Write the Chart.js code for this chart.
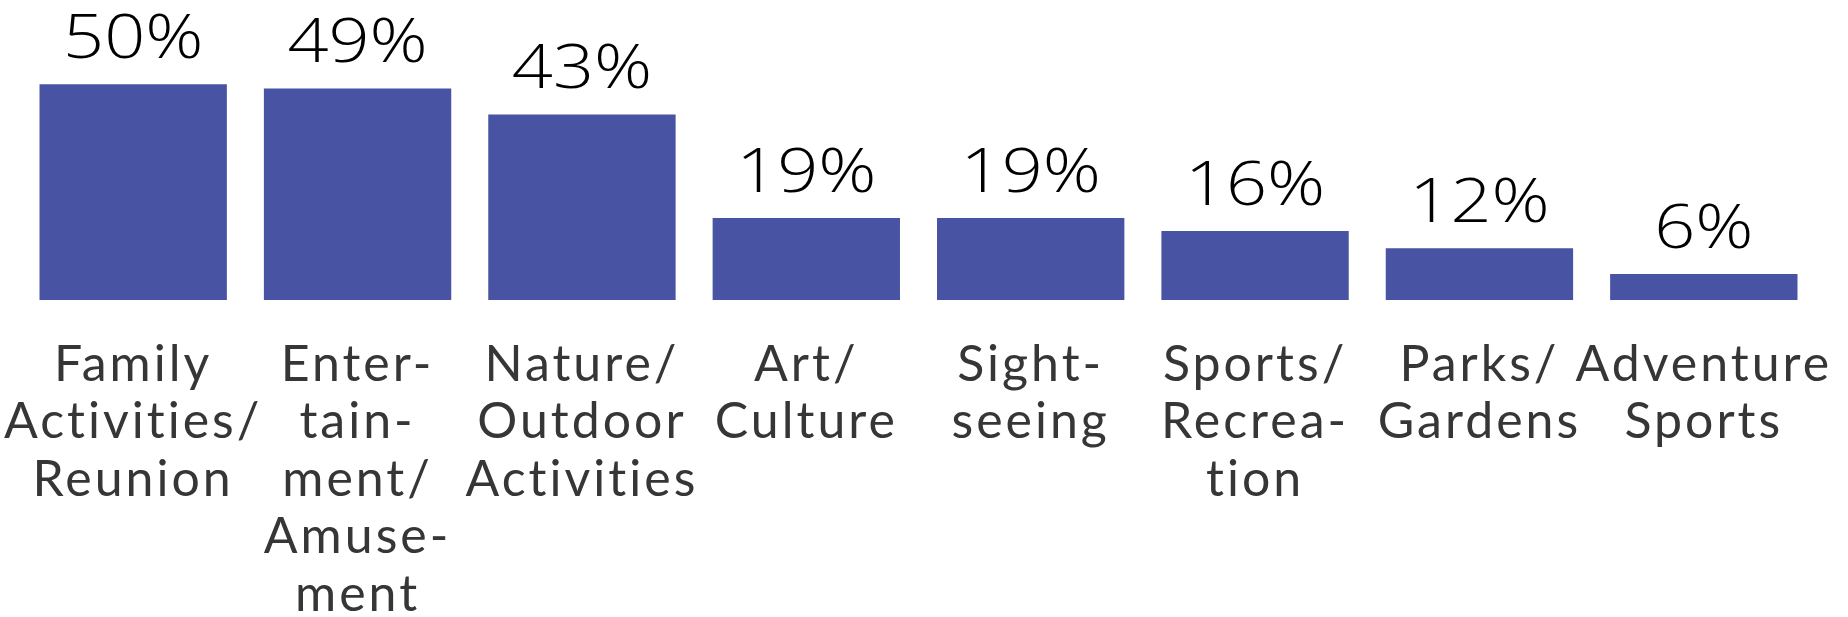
<!DOCTYPE html>
<html>
<head>
<meta charset="utf-8">
<script src="https://cdn.jsdelivr.net/npm/chart.js@4.4.1/dist/chart.umd.min.js"></script>
<style>
  html, body { margin: 0; padding: 0; background: #ffffff; }
  #wrap { width: 1848px; height: 617px; position: relative; }
</style>
</head>
<body>
<div id="wrap"><canvas id="chart"></canvas></div>
<script>
// Activity categories (hyphenated line breaks as printed)
const categories = [
  ['Family', 'Activities/', 'Reunion'],
  ['Enter-', 'tain-', 'ment/', 'Amuse-', 'ment'],
  ['Nature/', 'Outdoor', 'Activities'],
  ['Art/', 'Culture'],
  ['Sight-', 'seeing'],
  ['Sports/', 'Recrea-', 'tion'],
  ['Parks/', 'Gardens'],
  ['Adventure', 'Sports']
];

// Share of respondents, percent
const shares = [50, 49, 43, 19, 19, 16, 12, 6];

const barColor = '#4853a3';

// Slightly tracked lettering for the category labels
const tracking = {
  id: 'tracking',
  beforeDraw(chart) {
    chart.ctx.letterSpacing = '3px';
  }
};

// Percentage labels above each bar, placed from the bar elements.
// A wide, light face: Open Sans Light stretched horizontally.
const valueLabels = {
  id: 'valueLabels',
  afterDatasetsDraw(chart) {
    const ctx = chart.ctx;
    const meta = chart.getDatasetMeta(0);
    ctx.save();
    ctx.letterSpacing = '0px';
    ctx.font = '300 60px "Open Sans"';
    ctx.fillStyle = '#000000';
    ctx.textAlign = 'center';
    ctx.textBaseline = 'alphabetic';
    meta.data.forEach((bar, i) => {
      ctx.save();
      ctx.translate(bar.x, bar.y - 26);
      ctx.scale(1.2, 1);
      ctx.fillText(shares[i] + '%', 0, 0);
      ctx.restore();
    });
    ctx.restore();
  }
};

new Chart(document.getElementById('chart'), {
  type: 'bar',
  data: {
    labels: categories,
    datasets: [{
      data: shares,
      backgroundColor: barColor,
      borderWidth: 0,
      categoryPercentage: 1,
      barPercentage: 0.835
    }]
  },
  options: {
    responsive: true,
    maintainAspectRatio: false,
    animation: false,
    layout: { padding: { top: 41, left: 21, right: 32, bottom: 0 } },
    plugins: {
      legend: { display: false },
      tooltip: { enabled: false }
    },
    scales: {
      x: {
        grid: { display: false, drawTicks: false },
        border: { display: false },
        ticks: {
          color: '#363636',
          font: { family: 'Lato', size: 50, lineHeight: 1.15 },
          padding: 36,
          maxRotation: 0,
          minRotation: 0,
          autoSkip: false
        },
        afterFit(scale) {
          scale.height = 317;
          scale.paddingLeft = 0;
          scale.paddingRight = 0;
        }
      },
      y: {
        display: false,
        min: 0,
        max: 60
      }
    }
  },
  plugins: [tracking, valueLabels]
});
</script>
</body>
</html>
